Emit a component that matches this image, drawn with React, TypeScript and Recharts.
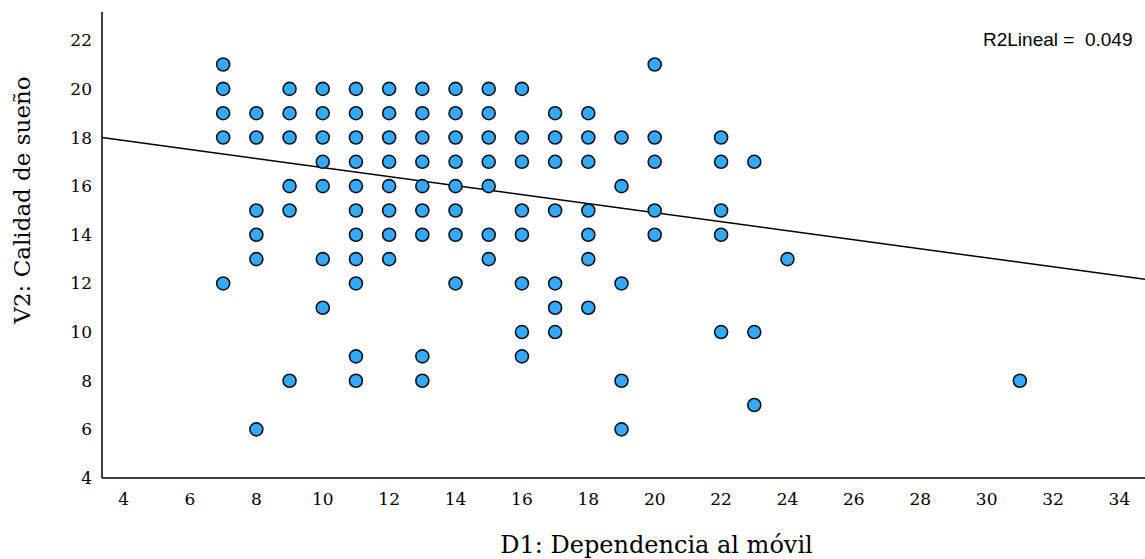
import {
  Label,
  ReferenceLine,
  Scatter,
  ScatterChart,
  XAxis,
  YAxis,
} from 'recharts';

// D1: Dependencia al móvil (x) and the V2 values found at each x
const dependencia = [7, 8, 9, 10, 11, 12, 13, 14, 15, 16, 17, 18, 19, 20, 22, 23, 24, 31];
const calidadPorColumna = [
  [21, 20, 19, 18, 12],
  [19, 18, 15, 14, 13, 6],
  [20, 19, 18, 16, 15, 8],
  [20, 19, 18, 17, 16, 13, 11],
  [20, 19, 18, 17, 16, 15, 14, 13, 12, 9, 8],
  [20, 19, 18, 17, 16, 15, 14, 13],
  [20, 19, 18, 17, 16, 15, 14, 9, 8],
  [20, 19, 18, 17, 16, 15, 14, 12],
  [20, 19, 18, 17, 16, 14, 13],
  [20, 18, 17, 15, 14, 12, 10, 9],
  [19, 18, 17, 15, 12, 11, 10],
  [19, 18, 17, 15, 14, 13, 11],
  [18, 16, 12, 8, 6],
  [21, 18, 17, 15, 14],
  [18, 17, 15, 14, 10],
  [17, 10, 7],
  [13],
  [8],
];

const xTicks = [4, 6, 8, 10, 12, 14, 16, 18, 20, 22, 24, 26, 28, 30, 32, 34];
const yTicks = [4, 6, 8, 10, 12, 14, 16, 18, 20, 22];
const xDomain = [3.35, 34.77];
const yDomain = [4, 23.16];

// fitted linear regression
const fitIntercept = 18.62;
const fitSlope = -0.1856;
const r2Lineal = '0.049';

const points = dependencia.flatMap((x, i) =>
  calidadPorColumna[i].map((y) => ({ x, y }))
);

const fitSegment = xDomain.map((x) => ({ x, y: fitIntercept + fitSlope * x }));

const serif = '"DejaVu Serif", "Liberation Serif", serif';

const Dot = (props: any) => (
  <circle cx={props.cx} cy={props.cy} r={6.5} fill="#33aaff" stroke="#111" strokeWidth={1.6} />
);

const YTitle = (props: any) => {
  const { viewBox } = props;
  const cx = viewBox.x - 20;
  const cy = viewBox.y + viewBox.height / 2 - 45;
  return (
    <text
      x={cx}
      y={cy}
      transform={`rotate(-90, ${cx}, ${cy})`}
      textAnchor="middle"
      dominantBaseline="central"
      fontFamily={serif}
      fontSize={23}
      fill="#000"
    >
      V2: Calidad de sueño
    </text>
  );
};

const App = () => {
  return (
    <div style={{ position: 'absolute', left: 0, top: 0, width: 1145, height: 559, background: '#fff' }}>
      <ScatterChart width={1145} height={559} margin={{ top: 12, right: 0, bottom: 3, left: 42 }}>
        <XAxis
          type="number"
          dataKey="x"
          domain={xDomain}
          ticks={xTicks}
          allowDataOverflow
          height={78}
          tickLine={false}
          tickMargin={9}
          axisLine={{ stroke: '#000', strokeWidth: 1.5 }}
          tick={{ fill: '#000', fontSize: 17, fontFamily: serif }}
        >
          <Label
            value="D1: Dependencia al móvil"
            position="insideBottom"
            offset={3}
            dx={33}
            fill="#000"
            fontSize={24}
            fontFamily={serif}
          />
        </XAxis>
        <YAxis
          type="number"
          dataKey="y"
          domain={yDomain}
          ticks={yTicks}
          allowDataOverflow
          width={60}
          tickLine={false}
          tickMargin={4}
          axisLine={{ stroke: '#000', strokeWidth: 1.5 }}
          tick={{ fill: '#000', fontSize: 17, fontFamily: serif }}
        >
          <Label content={<YTitle />} />
        </YAxis>
        <ReferenceLine segment={fitSegment} stroke="#000" strokeWidth={1.5} />
        <Scatter data={points} shape={<Dot />} isAnimationActive={false} />
      </ScatterChart>
      <div
        style={{
          position: 'absolute',
          left: 983,
          top: 29,
          lineHeight: '22px',
          fontFamily: '"Liberation Sans", Arial, sans-serif',
          fontSize: 19,
          color: '#000',
          whiteSpace: 'pre',
        }}
      >
        {`R2Lineal =  ${r2Lineal}`}
      </div>
    </div>
  );
};

export default App;
